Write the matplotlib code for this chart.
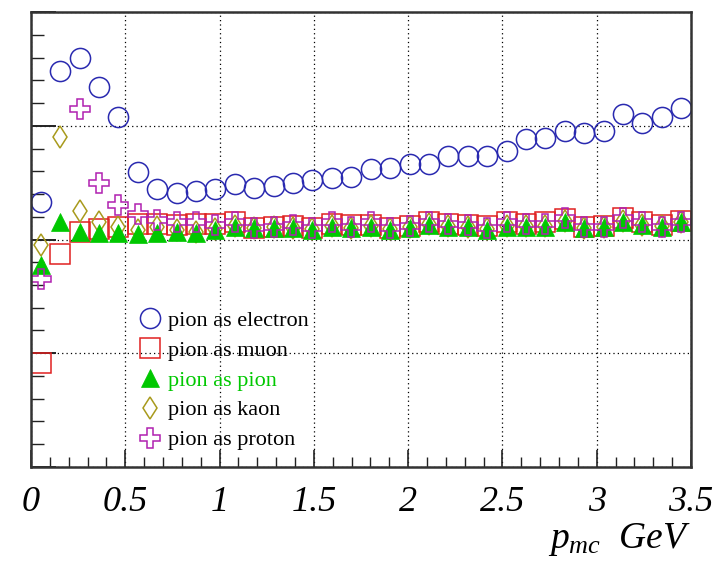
import numpy as np
import matplotlib
matplotlib.use('Agg')
import matplotlib.pyplot as plt
from matplotlib.ticker import MultipleLocator, NullFormatter

plt.rcParams['font.family'] = 'Liberation Serif'
plt.rcParams['mathtext.fontset'] = 'custom'
plt.rcParams['mathtext.rm'] = 'Liberation Serif'
plt.rcParams['mathtext.it'] = 'Liberation Serif:italic'

# momentum binning: 34 bins over 0 - 3.5 GeV
n_bins = 34
p_edges = np.linspace(0.0, 3.5, n_bins + 1)
p_centers = 0.5 * (p_edges[:-1] + p_edges[1:])

as_electron = [2.33, 3.48, 3.60, 3.34, 3.08, 2.59, 2.44, 2.41, 2.43, 2.44,
               2.49, 2.45, 2.47, 2.50, 2.52, 2.54, 2.55, 2.62, 2.63, 2.66,
               2.66, 2.73, 2.73, 2.73, 2.78, 2.88, 2.89, 2.95, 2.94, 2.95,
               3.10, 3.02, 3.08, 3.16]
as_muon = [0.91, 1.87, 2.07, 2.09, 2.11, 2.14, 2.14, 2.13, 2.14, 2.14,
           2.15, 2.10, 2.11, 2.12, 2.10, 2.14, 2.13, 2.13, 2.10, 2.12,
           2.15, 2.14, 2.13, 2.12, 2.15, 2.14, 2.15, 2.18, 2.11, 2.12,
           2.19, 2.15, 2.13, 2.16]
as_pion = [1.78, 2.15, 2.07, 2.06, 2.06, 2.05, 2.06, 2.07, 2.06, 2.08,
           2.11, 2.10, 2.10, 2.10, 2.08, 2.11, 2.10, 2.11, 2.08, 2.10,
           2.13, 2.11, 2.11, 2.08, 2.11, 2.11, 2.11, 2.15, 2.10, 2.11,
           2.15, 2.13, 2.11, 2.15]
as_kaon = [1.95, 2.90, 2.25, 2.15, 2.11, 2.08, 2.11, 2.08, 2.07, 2.09,
           2.12, 2.10, 2.11, 2.10, 2.09, 2.12, 2.10, 2.12, 2.09, 2.11,
           2.14, 2.12, 2.11, 2.09, 2.12, 2.12, 2.12, 2.16, 2.10, 2.11,
           2.16, 2.13, 2.12, 2.15]
as_proton = [1.65, np.nan, 3.15, 2.50, 2.30, 2.22, 2.17, 2.15, 2.15, 2.13,
             2.15, 2.10, 2.11, 2.13, 2.10, 2.15, 2.11, 2.15, 2.10, 2.12,
             2.15, 2.14, 2.13, 2.10, 2.15, 2.14, 2.14, 2.19, 2.11, 2.11,
             2.19, 2.15, 2.11, 2.15]

fig = plt.figure(figsize=(7.18, 5.67), dpi=100)
ax = fig.add_axes([0.0432, 0.1764, 0.9192, 0.8024])

mew = 1.1
ax.plot(p_centers, as_electron, 'o', ms=14.5, mfc='none', mec='#2a2ab0', mew=mew,
        ls='none', label='pion as electron')
ax.plot(p_centers, as_muon, 's', ms=14.5, mfc='none', mec='#e02020', mew=mew,
        ls='none', label='pion as muon')
ax.plot(p_centers, as_kaon, 'd', ms=11.5, mfc='none', mec='#a89a1c', mew=mew,
        ls='none', label='pion as kaon', zorder=2.1)
ax.plot(p_centers, as_pion, '^', ms=13, mfc='#00c800', mec='#00c800', mew=0.5,
        ls='none', label='pion as pion', zorder=2.2)
ax.plot(p_centers, as_proton, 'P', ms=14.5, mfc='none', mec='#b020b0', mew=mew,
        ls='none', label='pion as proton', zorder=2.3)

ax.set_xlim(0, 3.5)
ax.set_ylim(0, 4)

ax.xaxis.set_major_locator(MultipleLocator(0.5))
ax.xaxis.set_minor_locator(MultipleLocator(0.1))
ax.yaxis.set_major_locator(MultipleLocator(1))
ax.yaxis.set_minor_locator(MultipleLocator(0.2))
ax.xaxis.set_major_formatter(plt.FuncFormatter(lambda v, _: f'{v:g}'))
ax.yaxis.set_major_formatter(NullFormatter())

ax.tick_params(axis='both', which='both', direction='in', top=False, right=False,
               color='#222222')
ax.tick_params(axis='x', which='major', length=12, width=1.2, pad=14)
ax.tick_params(axis='x', which='minor', length=7, width=1.0)
ax.tick_params(axis='y', which='major', length=18, width=1.4)
ax.tick_params(axis='y', which='minor', length=9, width=1.0)
for lab in ax.get_xticklabels():
    lab.set_fontsize(26)
    lab.set_fontstyle('italic')

for sp in ax.spines.values():
    sp.set_linewidth(1.8)
    sp.set_color('#333333')

ax.grid(True, which='major', color='black', linestyle=(0, (1, 2.5)), linewidth=0.9)
ax.set_axisbelow(True)

order = [0, 1, 3, 2, 4]
handles, labels = ax.get_legend_handles_labels()
leg = ax.legend([handles[i] for i in order], [labels[i] for i in order],
                loc='upper left', bbox_to_anchor=(0.147, 0.369), frameon=False,
                fontsize=16, handlelength=1.0, handletextpad=0.32,
                labelspacing=0.42, borderpad=0)
for txt in leg.get_texts():
    if txt.get_text() == 'pion as pion':
        txt.set_color('#00c800')

fig.text(0.962, 0.034, r'$p_{mc}\ \ GeV$', ha='right', va='baseline', fontsize=27)

fig.savefig('out.png', dpi=100)
